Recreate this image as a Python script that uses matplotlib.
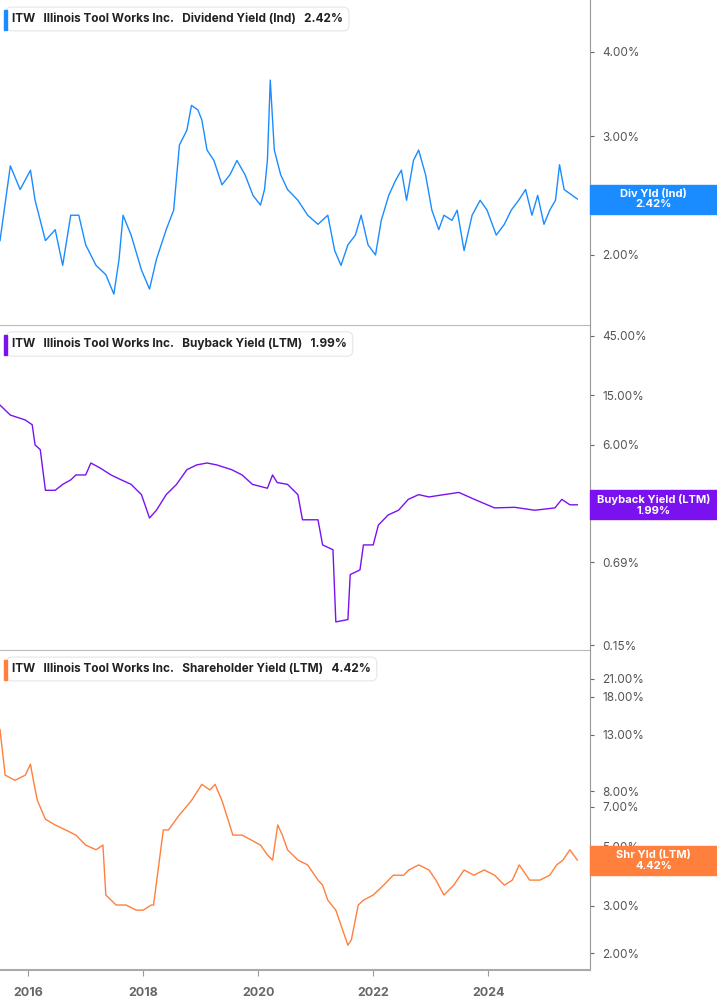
import matplotlib
matplotlib.use("Agg")
import matplotlib.pyplot as plt
import numpy as np
from matplotlib.patches import Rectangle
from matplotlib.ticker import FixedLocator, NullLocator

plt.rcParams["font.family"] = "Inter"

# x positions are in decimal years
div_x = [2015.51, 2015.69, 2015.86, 2016.04, 2016.12, 2016.30, 2016.47, 2016.60, 2016.74, 2016.88, 2017.00, 2017.18, 2017.35, 2017.49, 2017.58, 2017.65, 2017.79, 2017.97, 2018.11, 2018.23, 2018.40, 2018.53, 2018.63, 2018.76, 2018.84, 2018.95, 2019.02, 2019.11, 2019.23, 2019.37, 2019.51, 2019.63, 2019.77, 2019.91, 2020.04, 2020.11, 2020.16, 2020.21, 2020.28, 2020.39, 2020.51, 2020.69, 2020.86, 2021.04, 2021.21, 2021.33, 2021.44, 2021.56, 2021.69, 2021.79, 2021.91, 2022.04, 2022.14, 2022.27, 2022.39, 2022.49, 2022.58, 2022.70, 2022.79, 2022.91, 2023.02, 2023.14, 2023.23, 2023.37, 2023.46, 2023.58, 2023.72, 2023.86, 2023.98, 2024.14, 2024.28, 2024.40, 2024.53, 2024.65, 2024.76, 2024.86, 2024.97, 2025.07, 2025.17, 2025.24, 2025.32, 2025.55]
div_y = [2.10, 2.71, 2.50, 2.67, 2.41, 2.10, 2.18, 1.93, 2.29, 2.29, 2.07, 1.93, 1.87, 1.75, 1.97, 2.29, 2.14, 1.90, 1.78, 1.97, 2.18, 2.33, 2.91, 3.06, 3.33, 3.28, 3.17, 2.86, 2.76, 2.54, 2.63, 2.76, 2.63, 2.45, 2.37, 2.50, 2.76, 3.63, 2.86, 2.63, 2.50, 2.41, 2.29, 2.22, 2.29, 2.03, 1.93, 2.07, 2.14, 2.29, 2.07, 2.00, 2.25, 2.45, 2.58, 2.67, 2.41, 2.76, 2.86, 2.63, 2.33, 2.18, 2.29, 2.25, 2.33, 2.03, 2.29, 2.41, 2.33, 2.14, 2.22, 2.33, 2.41, 2.50, 2.29, 2.45, 2.22, 2.33, 2.41, 2.72, 2.50, 2.42]

bb_x = [2015.51, 2015.69, 2015.95, 2016.07, 2016.12, 2016.21, 2016.30, 2016.47, 2016.60, 2016.74, 2016.83, 2017.00, 2017.09, 2017.26, 2017.44, 2017.62, 2017.79, 2017.97, 2018.11, 2018.23, 2018.40, 2018.58, 2018.76, 2018.93, 2019.11, 2019.28, 2019.54, 2019.72, 2019.90, 2020.16, 2020.25, 2020.33, 2020.51, 2020.69, 2020.77, 2021.04, 2021.12, 2021.30, 2021.35, 2021.56, 2021.60, 2021.77, 2021.83, 2022.00, 2022.09, 2022.26, 2022.44, 2022.61, 2022.79, 2022.97, 2023.23, 2023.49, 2023.76, 2024.11, 2024.46, 2024.81, 2025.16, 2025.28, 2025.42, 2025.55]
bb_y = [12.5, 10.4, 9.5, 8.7, 6.0, 5.5, 2.6, 2.6, 2.9, 3.15, 3.45, 3.45, 4.3, 3.9, 3.45, 3.15, 2.9, 2.4, 1.56, 1.8, 2.4, 2.9, 3.8, 4.15, 4.3, 4.15, 3.8, 3.45, 2.9, 2.7, 3.45, 3.0, 2.9, 2.4, 1.51, 1.51, 0.95, 0.87, 0.23, 0.24, 0.55, 0.60, 0.95, 0.95, 1.37, 1.65, 1.8, 2.2, 2.4, 2.3, 2.4, 2.5, 2.2, 1.88, 1.9, 1.8, 1.88, 2.2, 1.99, 1.99]

shr_x = [2015.51, 2015.60, 2015.77, 2015.95, 2016.04, 2016.09, 2016.16, 2016.30, 2016.47, 2016.65, 2016.83, 2017.00, 2017.18, 2017.30, 2017.35, 2017.53, 2017.70, 2017.88, 2018.00, 2018.14, 2018.18, 2018.35, 2018.44, 2018.62, 2018.84, 2019.02, 2019.16, 2019.25, 2019.37, 2019.56, 2019.72, 2019.86, 2020.04, 2020.16, 2020.25, 2020.34, 2020.42, 2020.51, 2020.69, 2020.86, 2021.04, 2021.12, 2021.21, 2021.35, 2021.56, 2021.62, 2021.74, 2021.83, 2022.00, 2022.18, 2022.35, 2022.53, 2022.62, 2022.79, 2022.97, 2023.09, 2023.23, 2023.40, 2023.58, 2023.75, 2023.93, 2024.11, 2024.28, 2024.42, 2024.54, 2024.72, 2024.90, 2025.07, 2025.19, 2025.30, 2025.42, 2025.55]
shr_y = [13.6, 9.2, 8.8, 9.2, 10.1, 8.8, 7.4, 6.3, 6.0, 5.75, 5.5, 5.05, 4.85, 5.05, 3.29, 3.02, 3.02, 2.89, 2.89, 3.02, 3.02, 5.75, 5.75, 6.5, 7.4, 8.5, 8.1, 8.5, 7.4, 5.5, 5.5, 5.3, 5.05, 4.64, 4.44, 6.0, 5.5, 4.85, 4.44, 4.26, 3.74, 3.58, 3.15, 2.89, 2.14, 2.24, 3.02, 3.15, 3.29, 3.58, 3.9, 3.9, 4.08, 4.26, 4.08, 3.74, 3.29, 3.58, 4.08, 3.9, 4.08, 3.9, 3.58, 3.74, 4.26, 3.74, 3.74, 3.9, 4.26, 4.44, 4.85, 4.44]

panels = [
    dict(x=div_x, y=div_y, color="#1a8cff", lim=(1.575, 4.77),
         ticks=[2, 3, 4], labels=["2.00%", "3.00%", "4.00%"],
         title="Dividend Yield (Ind)", last="2.42%", tag="Div Yld (Ind)", tagv=2.42),
    dict(x=bb_x, y=bb_y, color="#7a12f0", lim=(0.137, 54.7),
         ticks=[0.15, 0.69, 6, 15, 45], labels=["0.15%", "0.69%", "6.00%", "15.00%", "45.00%"],
         title="Buyback Yield (LTM)", last="1.99%", tag="Buyback Yield (LTM)", tagv=1.99),
    dict(x=shr_x, y=shr_y, color="#ff7f3c", lim=(1.73, 26.9),
         ticks=[2, 3, 5, 7, 8, 13, 18, 21],
         labels=["2.00%", "3.00%", "5.00%", "7.00%", "8.00%", "13.00%", "18.00%", "21.00%"],
         title="Shareholder Yield (LTM)", last="4.42%", tag="Shr Yld (LTM)", tagv=4.42),
]

W, H = 717, 1005
fig = plt.figure(figsize=(W / 100, H / 100), dpi=100)
edges = [(0, 325), (325, 650), (650, 970)]
axright = 590
axes = []
for p, (t, b) in zip(panels, edges):
    ax = fig.add_axes([0, 1 - b / H, axright / W, (b - t) / H])
    ax.plot(p["x"], p["y"], color=p["color"], lw=1.0)
    ax.set_yscale("log")
    ax.set_ylim(*p["lim"])
    ax.set_xlim(2015.51, 2025.77)
    ax.yaxis.tick_right()
    ax.yaxis.set_major_locator(FixedLocator(p["ticks"]))
    ax.yaxis.set_minor_locator(NullLocator())
    ax.set_yticklabels(p["labels"])
    ax.tick_params(axis="y", colors="#666666", labelsize=8.5, length=3, pad=6, labelcolor="#555555")
    for s in ["left", "top"]:
        ax.spines[s].set_visible(False)
    ax.spines["right"].set_color("#999999")
    ax.spines["bottom"].set_color("#bbbbbb")
    ax.patch.set_alpha(0)
    axes.append(ax)
    ax.text(12 / axright, 1 - 19 / (b - t), f"ITW   Illinois Tool Works Inc.   {p['title']}   {p['last']}",
            transform=ax.transAxes, fontsize=8.5, fontweight="bold", color="#222222", va="center",
            bbox=dict(boxstyle="round,pad=0.5", fc="white", ec="#e6e6e6", lw=0.8))
    fig.add_artist(Rectangle((4 / W, 1 - (t + 30) / H), 3 / W, 20 / H,
                             transform=fig.transFigure, color=p["color"], zorder=5))

for ax in axes[:2]:
    ax.set_xticks([])
ax3 = axes[2]
ax3.set_xticks([2016, 2018, 2020, 2022, 2024])
ax3.set_xticklabels(["2016", "2018", "2020", "2022", "2024"])
ax3.tick_params(axis="x", colors="#999999", labelcolor="#666666", labelsize=9, length=4, pad=8)
for lab in ax3.get_xticklabels():
    lab.set_fontweight("bold")
ax3.spines["bottom"].set_color("#aaaaaa")
ax3.spines["bottom"].set_linewidth(1.5)

fig.canvas.draw()
inv = fig.transFigure.inverted()
for ax, p in zip(axes, panels):
    _, yd = ax.transData.transform((2020, p["tagv"]))
    _, yf = inv.transform((0, yd))
    h = 29 / H
    fig.add_artist(Rectangle((axright / W, yf - h / 2), 1 - axright / W, h,
                             transform=fig.transFigure, color=p["color"], zorder=5))
    fig.text((axright + W) / 2 / W, yf, f"{p['tag']}\n{p['tagv']:.2f}%", ha="center", va="center",
             color="white", fontsize=8, fontweight="bold", linespacing=1.1, zorder=6)

fig.savefig("out.png", dpi=100, facecolor="white")
